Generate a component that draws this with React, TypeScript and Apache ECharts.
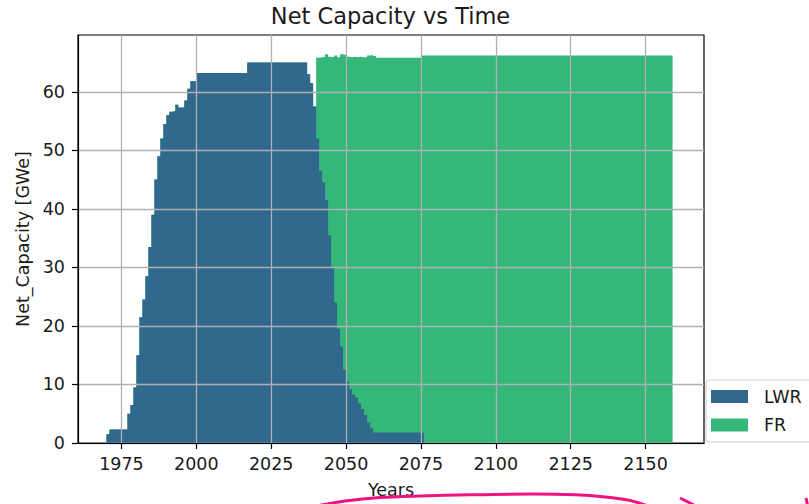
import React, { useEffect, useRef } from "react";
import * as echarts from "echarts";

// ---- data ----
const startYear = 1970;

// LWR net capacity [GWe], one value per year from 1970 (value held through the year)
const lwrCapacity = [
  1.5, 2.3, 2.3, 2.3, 2.3, 2.3, 2.3, 5.0, 6.5, 9.5, // 1970
  15, 21.5, 24.5, 28.5, 33.5, 39, 45, 49, 52, 54.5, // 1980
  56.0, 56.6, 56.7, 57.8, 57.3, 57.3, 58.5, 60.5, 61.8, 61.8, // 1990
  63.2, 63.2, 63.2, 63.2, 63.2, 63.2, 63.2, 63.2, 63.2, 63.2, // 2000
  63.2, 63.2, 63.2, 63.2, 63.2, 63.2, 63.2, 65.0, 65.0, 65.0, // 2010
  65.0, 65.0, 65.0, 65.0, 65.0, 65.0, 65.0, 65.0, 65.0, 65.0, // 2020
  65.0, 65.0, 65.0, 65.0, 65.0, 65.0, 65.0, 63.0, 61.5, 57.5, // 2030
  52, 46.5, 44.5, 41.5, 35.5, 30, 24, 19.5, 16.5, 12.5, // 2040
  10.5, 9.2, 8.3, 7.8, 6.8, 5.8, 4.8, 3.5, 2.5, 1.8, // 2050
  1.8, 1.8, 1.8, 1.8, 1.8, 1.8, 1.8, 1.8, 1.8, 1.8, // 2060
  1.8, 1.8, 1.8, 1.8, 1.8, 1.8, 0, 0, 0, 0, // 2070
  0, 0, 0, 0, 0, 0, 0, 0, 0, 0, // 2080
  0, 0, 0, 0, 0, 0, 0, 0, 0, 0, // 2090
  0, 0, 0, 0, 0, 0, 0, 0, 0, 0, // 2100
  0, 0, 0, 0, 0, 0, 0, 0, 0, 0, // 2110
  0, 0, 0, 0, 0, 0, 0, 0, 0, 0, // 2120
  0, 0, 0, 0, 0, 0, 0, 0, 0, 0, // 2130
  0, 0, 0, 0, 0, 0, 0, 0, 0, 0, // 2140
  0, 0, 0, 0, 0, 0, 0, 0, 0, 0, // 2150
];

// FR net capacity [GWe], one value per year from 1970
const frCapacity = [
  0, 0, 0, 0, 0, 0, 0, 0, 0, 0, // 1970
  0, 0, 0, 0, 0, 0, 0, 0, 0, 0, // 1980
  0, 0, 0, 0, 0, 0, 0, 0, 0, 0, // 1990
  0, 0, 0, 0, 0, 0, 0, 0, 0, 0, // 2000
  0, 0, 0, 0, 0, 0, 0, 0, 0, 0, // 2010
  0, 0, 0, 0, 0, 0, 0, 0, 0, 0, // 2020
  0, 0, 0, 0, 0, 0, 0, 0, 0, 0, // 2030
  13.8, 19.4, 21.5, 24.9, 30.5, 35.9, 42.2, 46.4, 49.9, 53.8, // 2040
  55.5, 56.7, 57.7, 58.1, 59.2, 60.1, 61.1, 62.7, 63.8, 64.3, // 2050
  64.0, 64.0, 64.0, 64.0, 64.0, 64.0, 64.0, 64.0, 64.0, 64.0, // 2060
  64.0, 64.0, 64.0, 64.0, 64.0, 64.4, 66.2, 66.2, 66.2, 66.2, // 2070
  66.2, 66.2, 66.2, 66.2, 66.2, 66.2, 66.2, 66.2, 66.2, 66.2, // 2080
  66.2, 66.2, 66.2, 66.2, 66.2, 66.2, 66.2, 66.2, 66.2, 66.2, // 2090
  66.2, 66.2, 66.2, 66.2, 66.2, 66.2, 66.2, 66.2, 66.2, 66.2, // 2100
  66.2, 66.2, 66.2, 66.2, 66.2, 66.2, 66.2, 66.2, 66.2, 66.2, // 2110
  66.2, 66.2, 66.2, 66.2, 66.2, 66.2, 66.2, 66.2, 66.2, 66.2, // 2120
  66.2, 66.2, 66.2, 66.2, 66.2, 66.2, 66.2, 66.2, 66.2, 66.2, // 2130
  66.2, 66.2, 66.2, 66.2, 66.2, 66.2, 66.2, 66.2, 66.2, 66.2, // 2140
  66.2, 66.2, 66.2, 66.2, 66.2, 66.2, 66.2, 66.2, 66.2, 66.2, // 2150
];

const years = lwrCapacity.map((_, i) => startYear + i);
const xTickValues = [1975, 2000, 2025, 2050, 2075, 2100, 2125, 2150];
const yTickValues = [0, 10, 20, 30, 40, 50, 60];
const seriesNames = ["LWR", "FR"];
const seriesColors = ["#31688e", "#35b779"];

const FONT = "'DejaVu Sans', sans-serif";
const TEXT = "#1a1a1a";

export default function App() {
  const ref = useRef<HTMLDivElement>(null);

  useEffect(() => {
    if (!ref.current) return;
    const chart = echarts.init(ref.current, null, { renderer: "svg" });

    // stacked layers: LWR at the bottom, FR on top of it (top edge = LWR + FR)
    const lwrLayer = years.map((y, i) => [y, lwrCapacity[i]]);
    const frLayerTop = years.map((y, i) => [y, lwrCapacity[i] + frCapacity[i]]);

    const areaSeries = (name: string, color: string, data: number[][], z: number) => ({
      name,
      type: "line",
      step: "end",
      symbol: "none",
      showSymbol: false,
      color,
      itemStyle: { color },
      lineStyle: { width: 0 },
      areaStyle: { color, opacity: 1, origin: "start" },
      z,
      data,
    });

    const option: any = {
      animation: false,
      textStyle: { fontFamily: FONT },
      title: {
        text: "Net Capacity vs Time",
        left: 390.5,
        top: 4,
        textAlign: "center",
        padding: 0,
        textStyle: { fontSize: 22.5, fontWeight: "normal", color: TEXT, fontFamily: FONT },
      },
      grid: {
        left: 78,
        right: 105,
        top: 35,
        bottom: 60,
        show: true,
        borderColor: "#000",
        borderWidth: 1.2,
        backgroundColor: "transparent",
      },
      legend: {
        data: seriesNames,
        orient: "vertical",
        left: 711,
        top: 387.5,
        padding: 0,
        icon: "rect",
        itemWidth: 37,
        itemHeight: 13,
        itemGap: 10.5,
        textStyle: {
          fontSize: 17.5,
          color: TEXT,
          fontFamily: FONT,
          padding: [0, 0, 0, 11],
        },
      },
      xAxis: {
        type: "value",
        min: 1960.5,
        max: 2169.5,
        z: 3,
        name: "Years",
        nameLocation: "middle",
        nameGap: 38,
        nameTextStyle: { fontSize: 17.5, color: TEXT, fontFamily: FONT },
        axisLine: { onZero: false, lineStyle: { color: "#000", width: 1.2 } },
        axisTick: { customValues: xTickValues, length: 6, lineStyle: { color: "#000", width: 1.2 } },
        axisLabel: {
          customValues: xTickValues,
          margin: 12,
          fontSize: 17.5,
          color: TEXT,
          fontFamily: FONT,
          formatter: (v: number) => String(v),
        },
        splitLine: { show: true, lineStyle: { color: "#b0b0b0", width: 1.3 } },
      },
      yAxis: {
        type: "value",
        min: 0,
        max: 69.7,
        z: 3,
        name: "Net_Capacity [GWe]",
        nameLocation: "middle",
        nameGap: 45,
        nameTextStyle: { fontSize: 17.5, color: TEXT, fontFamily: FONT },
        axisLine: { show: true, lineStyle: { color: "#000", width: 1.2 } },
        axisTick: { show: true, customValues: yTickValues, length: 6, lineStyle: { color: "#000", width: 1.2 } },
        axisLabel: {
          customValues: yTickValues,
          margin: 13,
          fontSize: 17.5,
          color: TEXT,
          fontFamily: FONT,
          formatter: (v: number) => String(v),
        },
        splitLine: { show: true, lineStyle: { color: "#b0b0b0", width: 1.3 } },
      },
      series: [
        areaSeries(seriesNames[1], seriesColors[1], frLayerTop, 1),
        areaSeries(seriesNames[0], seriesColors[0], lwrLayer, 2),
      ],
      graphic: [
        {
          type: "rect",
          x: 706,
          y: 380,
          shape: { x: 0, y: 0, width: 130, height: 62, r: 3 },
          style: { fill: "#ffffff", stroke: "#d0d0d0", lineWidth: 1.2 },
          z: 1,
        },
        {
          type: "polyline",
          shape: {
            points: [
              [316, 506], [345, 501], [380, 497.5], [420, 496], [470, 494.8],
              [533, 494], [575, 494.8], [605, 497], [630, 500.5], [648, 506],
            ],
            smooth: 0.3,
          },
          style: { stroke: "#ec1385", lineWidth: 3, fill: null },
          z: 100,
        },
        {
          type: "line",
          shape: { x1: 680, y1: 498, x2: 694, y2: 505 },
          style: { stroke: "#ec1385", lineWidth: 3 },
          z: 100,
        },
        {
          type: "line",
          shape: { x1: 806, y1: 498, x2: 807.5, y2: 505 },
          style: { stroke: "#ec1385", lineWidth: 3 },
          z: 100,
        },
      ],
    };

    chart.setOption(option);
    return () => chart.dispose();
  }, []);

  return (
    <div
      ref={ref}
      style={{ position: "absolute", left: 0, top: 0, width: 809, height: 504, background: "#fff" }}
    />
  );
}
